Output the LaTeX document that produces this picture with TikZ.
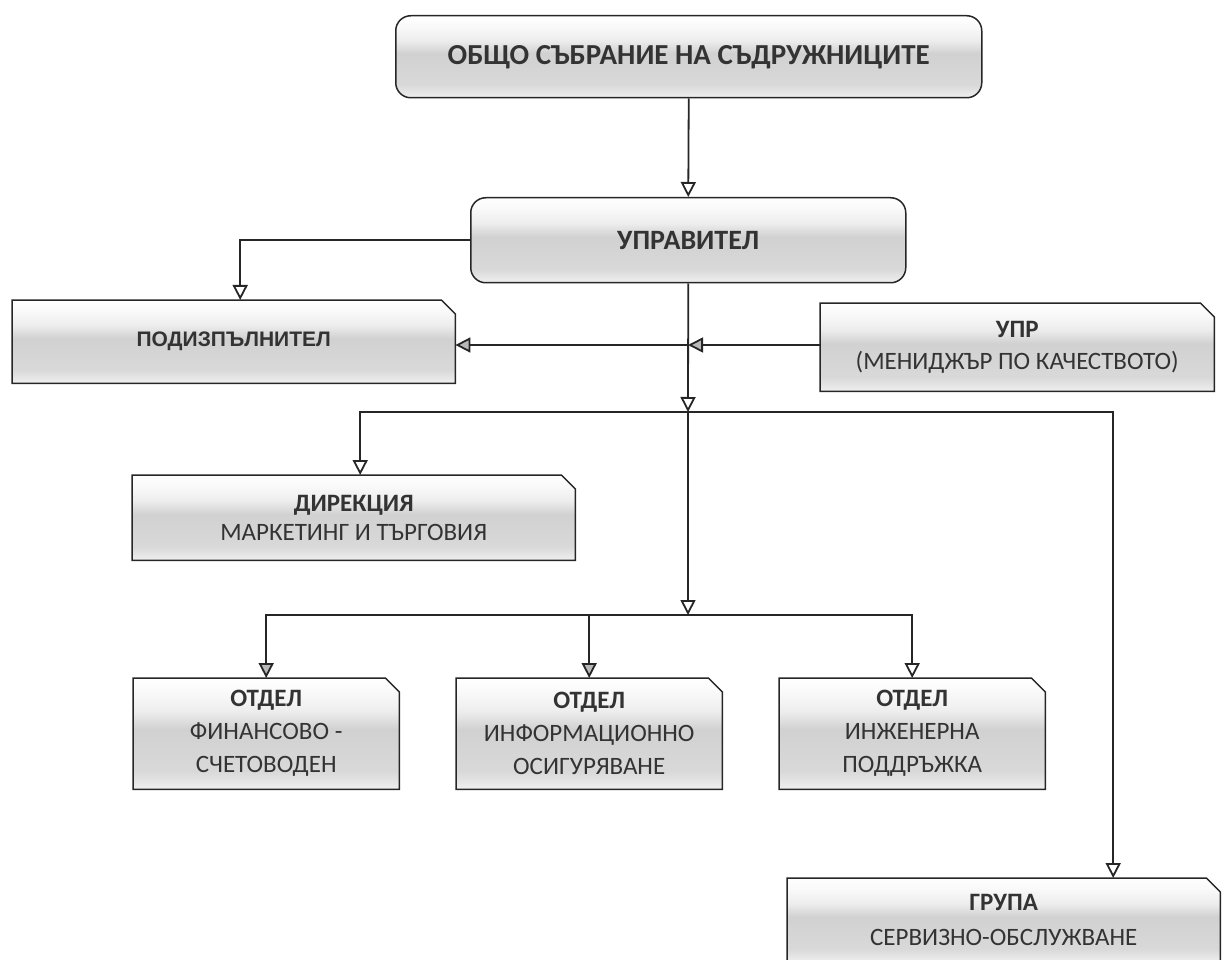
\documentclass[tikz,border=0pt]{standalone}
\usepackage{fontspec}
\setmainfont{Carlito}
\newfontfamily\arialfont{Liberation Sans}
\usetikzlibrary{arrows.meta,backgrounds}
\pgfdeclareverticalshading{band}{100bp}{color(0bp)=(gray!10); color(25bp)=(gray!12); color(33bp)=(gray!30); color(52bp)=(gray!36); color(60bp)=(gray!14); color(68bp)=(gray!5); color(75bp)=(white); color(100bp)=(white)}
\newcommand\snipshape[1]{%
  \begin{scope}[on background layer]
    \path[boxline, shading=band] (#1.south west) -- (#1.north west) -- ([xshift=-14pt]#1.north east) -- ([yshift=-14pt]#1.north east) -- (#1.south east) -- cycle;
  \end{scope}}
\begin{document}
\begin{tikzpicture}[x=1pt,y=-1pt,
  boxline/.style={draw=black!85, line width=1.5pt},
  conn/.style={draw=black!85, line width=1.8pt},
  openarrow/.style={conn, -{Triangle[length=15pt,width=15pt,fill=white]}},
  grayarrow/.style={conn, -{Triangle[length=15pt,width=15pt,fill=gray!55]}},
  rbox/.style={boxline, rounded corners=15pt, shading=band, anchor=north west, inner sep=0pt, align=center, text=black!80},
  sbox/.style={anchor=north west, inner sep=0pt, align=center, text=black!80, font=\fontsize{25}{32}\selectfont},
  dept/.style={sbox, minimum width=266pt, minimum height=111pt, font=\fontsize{25}{33}\selectfont}]
\useasboundingbox (0,0) rectangle (1224,960);
% nodes
\node[rbox, minimum width=586pt, minimum height=82pt] (gen) at (395,15) {\fontsize{29}{35}\selectfont\bfseries ОБЩО СЪБРАНИЕ НА СЪДРУЖНИЦИТЕ};
\node[rbox, minimum width=435pt, minimum height=85pt] (mgr) at (470,197) {\fontsize{28}{34}\selectfont\bfseries УПРАВИТЕЛ};
\node[sbox, minimum width=443pt, minimum height=83pt] (sub) at (12,300) {\arialfont\fontsize{21}{24}\selectfont\bfseries ПОДИЗПЪЛНИТЕЛ};
\snipshape{sub}
\node[sbox, minimum width=394pt, minimum height=88pt] (qm) at (820,303) {\bfseries УПР\\(МЕНИДЖЪР ПО КАЧЕСТВОТО)};
\snipshape{qm}
\node[sbox, minimum width=443pt, minimum height=85pt, font=\fontsize{25}{29}\selectfont] (dir) at (132,475) {\bfseries ДИРЕКЦИЯ\\МАРКЕТИНГ И ТЪРГОВИЯ};
\snipshape{dir}
\node[dept] (d1) at (133,678) {\bfseries ОТДЕЛ\\ФИНАНСОВО -\\СЧЕТОВОДЕН};
\snipshape{d1}
\node[dept] (d2) at (456,678) {\bfseries ОТДЕЛ\\ИНФОРМАЦИОННО\\ОСИГУРЯВАНЕ};
\snipshape{d2}
\node[dept] (d3) at (779,678) {\bfseries ОТДЕЛ\\ИНЖЕНЕРНА\\ПОДДРЪЖКА};
\snipshape{d3}
\node[sbox, minimum width=433pt, minimum height=84pt, font=\fontsize{25}{35}\selectfont] (grp) at (787,878) {\bfseries ГРУПА\\СЕРВИЗНО-ОБСЛУЖВАНЕ};
\snipshape{grp}
% junctions
\coordinate (j1) at (688,345);
\coordinate (b1) at (688,412);
\coordinate (b2) at (688,615);
% connectors
\draw[openarrow] (gen.south) -- (mgr.north);
\draw[openarrow] (mgr.west) -| ([xshift=6.5pt]sub.north);
\draw[openarrow] (mgr.south) -- (b1);
\draw[grayarrow] (qm.west |- j1) -- (j1);
\draw[grayarrow] (j1) -- (sub.east |- j1);
\draw[openarrow] (b1) -| ([xshift=6.5pt]dir.north);
\draw[openarrow] (b1) -| ([xshift=109.5pt]grp.north);
\draw[openarrow] (b1) -- (b2);
\draw[grayarrow] (b2) -| (d1.north);
\draw[grayarrow] (b2) -| (d2.north);
\draw[openarrow] (b2) -| (d3.north);
\end{tikzpicture}
\end{document}
